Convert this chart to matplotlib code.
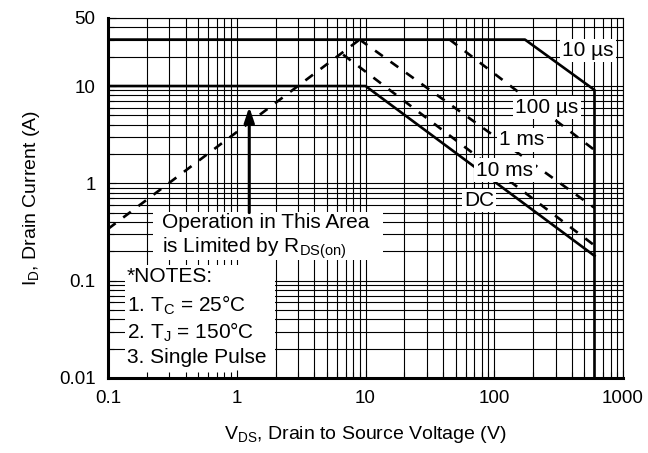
import matplotlib
matplotlib.use('Agg')
import matplotlib.pyplot as plt
from matplotlib.patches import Rectangle
from matplotlib.ticker import FixedLocator, NullFormatter

plt.rcParams['font.family'] = ['Liberation Sans', 'DejaVu Sans']
plt.rcParams['mathtext.fontset'] = 'custom'
plt.rcParams['mathtext.rm'] = 'Liberation Sans'
plt.rcParams['mathtext.it'] = 'Liberation Sans'

# safe operating area curves (V, A)
rds_v = [0.1, 9.0]
rds_i = [0.34, 30.0]
us10_v = [0.1, 173, 600, 600]
us10_i = [30.0, 30.0, 9.1, 0.01]
us100_v = [45, 600]
us100_i = [30.0, 2.2]
ms1_v = [9.0, 600]
ms1_i = [30.0, 0.56]
ms10_v = [6.7, 600]
ms10_i = [21.0, 0.23]
dc_v = [0.1, 10, 600]
dc_i = [10.0, 10.0, 0.18]

# curve labels: text, V, I
curve_labels = [('10 µs', 535, 23.0), ('100 µs', 257, 5.96), ('1 ms', 164, 2.79),
                ('10 ms', 121, 1.37), ('DC', 76, 0.67)]

x_ticks = [0.1, 1, 10, 100, 1000]
x_tick_labels = ['0.1', '1', '10', '100', '1000']
y_ticks = [0.01, 0.1, 1, 10, 50]
y_tick_labels = ['0.01', '0.1', '1', '10', '50']

arrow_v = 1.25
arrow_from = 0.5
arrow_to = 6.1

fs_tick = 13.5
fs_lab = 14
fs_txt = 15

fig = plt.figure(figsize=(6.48, 4.53), dpi=100)
pos = [0.1667, 0.1656, 0.7948, 0.7947]
ax = fig.add_axes(pos)
ax.set_xscale('log')
ax.set_yscale('log')
ax.set_xlim(0.1, 1000)
ax.set_ylim(0.01, 50)

xminor = [m * 10.0 ** e for e in range(-1, 3) for m in range(2, 10)]
yminor = [m * 10.0 ** e for e in range(-2, 2) for m in range(2, 10) if m * 10.0 ** e < 50]
ax.xaxis.set_major_locator(FixedLocator(x_ticks))
ax.yaxis.set_major_locator(FixedLocator(y_ticks))
ax.xaxis.set_minor_locator(FixedLocator(xminor))
ax.yaxis.set_minor_locator(FixedLocator(yminor))
ax.grid(which='both', color='k', lw=0.8)
ax.set_axisbelow(True)
ax.tick_params(which='both', length=0, labelbottom=False, labelleft=False)
for s in ax.spines.values():
    s.set_visible(False)

lw = 1.9
ax.plot(us10_v, us10_i, color='k', lw=lw, zorder=2)
ax.plot(dc_v, dc_i, color='k', lw=lw, zorder=2)
for v, i in [(rds_v, rds_i), (us100_v, us100_i), (ms1_v, ms1_i), (ms10_v, ms10_i)]:
    ax.plot(v, i, color='k', lw=lw, dashes=(3.6, 3.6), zorder=2)

for txt, v, i in curve_labels:
    ax.text(v, i, txt, fontsize=fs_txt, ha='center', va='center', zorder=4,
            bbox=dict(boxstyle='square,pad=0.1', fc='white', ec='none'))

# white boxes for the annotations
ax.add_patch(Rectangle((0.087, 0.328), 0.447, 0.133, transform=ax.transAxes,
                       fc='white', ec='none', zorder=3))
ax.add_patch(Rectangle((0.033, 0.0), 0.291, 0.314, transform=ax.transAxes,
                       fc='white', ec='none', zorder=3))

ax.text(0.105, 0.433, 'Operation in This Area', transform=ax.transAxes,
        fontsize=fs_txt, va='center', zorder=4)
ax.text(0.105, 0.361, r'is Limited by R$_{\mathregular{DS(on)}}$', transform=ax.transAxes,
        fontsize=fs_txt, va='center', zorder=4)
notes = ['*NOTES:', r'1. T$_{\mathregular{C}}$ = 25°C', r'2. T$_{\mathregular{J}}$ = 150°C',
         '3. Single Pulse']
for t, y in zip(notes, [0.281, 0.203, 0.128, 0.058]):
    ax.text(0.037, y, t, transform=ax.transAxes, fontsize=fs_txt, va='center', zorder=4)

ax.annotate('', xy=(arrow_v, arrow_to), xytext=(arrow_v, arrow_from),
            arrowprops=dict(arrowstyle='-|>,head_length=0.9,head_width=0.3',
                            color='k', lw=2.2, shrinkA=0, shrinkB=0), zorder=4)

# overlay axes: frame and inward ticks on top of white boxes
ax2 = fig.add_axes(pos, sharex=ax, sharey=ax, zorder=5)
ax2.patch.set_visible(False)
ax2.grid(False)
ax2.tick_params(which='both', direction='in', labelsize=fs_tick, colors='k')
ax2.tick_params(which='major', length=6, width=0.8)
ax2.tick_params(which='minor', length=4, width=0.8)
ax2.tick_params(axis='x', pad=9)
ax2.tick_params(axis='y', pad=9)
ax2.xaxis.set_minor_formatter(NullFormatter())
ax2.yaxis.set_minor_formatter(NullFormatter())
ax2.set_xticks(x_ticks, x_tick_labels)
ax2.set_yticks(y_ticks, y_tick_labels)
ax2.set_xlim(0.1, 1000)
ax2.set_ylim(0.01, 50)
ax2.spines['left'].set_linewidth(2.2)
ax2.spines['bottom'].set_linewidth(2.2)
ax2.spines['top'].set_linewidth(0.8)
ax2.spines['right'].set_linewidth(0.8)
ax2.set_xlabel(r'V$_{\mathregular{DS}}$, Drain to Source Voltage (V)', fontsize=fs_lab, labelpad=12)
ax2.set_ylabel(r'I$_{\mathregular{D}}$, Drain Current (A)', fontsize=fs_lab, labelpad=12)

fig.savefig('out.png', dpi=100)
